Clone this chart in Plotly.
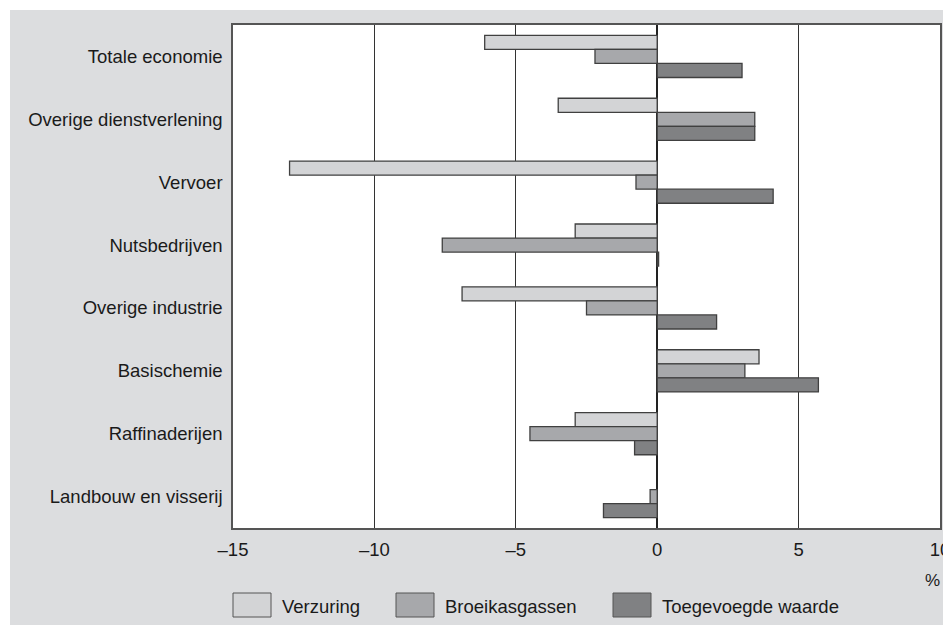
import plotly.graph_objects as go

categories = ["Totale economie", "Overige dienstverlening", "Vervoer", "Nutsbedrijven",
              "Overige industrie", "Basischemie", "Raffinaderijen", "Landbouw en visserij"]
verzuring = [-6.1, -3.5, -13.0, -2.9, -6.9, 3.6, -2.9, None]
broeikasgassen = [-2.2, 3.45, -0.75, -7.6, -2.5, 3.1, -4.5, -0.25]
toegevoegde_waarde = [3.0, 3.45, 4.1, 0.05, 2.1, 5.7, -0.8, -1.9]
series_names = ["Verzuring", "Broeikasgassen", "Toegevoegde waarde"]
series_colors = ["#d3d4d6", "#a7a8ab", "#808183"]
x_tick_values = [-15, -10, -5, 0, 5, 10]
x_tick_labels = ["\u201315", "\u201310", "\u20135", "0", "5", "10"]
unit_label = "%"

OFF = 8  # page body margin
W, H = 951 - OFF, 625 - OFF
L, T = 233 - OFF, 25 - OFF
R = W - (940 - OFF)
B = H - (528 - OFF)
PW, PH = W - L - R, H - T - B
FONT = "Liberation Sans, Arial, Helvetica, sans-serif"


def px_x(p):
    return (p - OFF - L) / PW


def px_y(p):
    return (H - B - (p - OFF)) / PH


fig = go.Figure()
for name, vals, col in zip(series_names, [verzuring, broeikasgassen, toegevoegde_waarde], series_colors):
    fig.add_trace(go.Bar(
        y=categories, x=vals, name=name, orientation="h",
        marker=dict(color=col, line=dict(color="#404040", width=1.3)),
        showlegend=False,
    ))

shapes = [
    dict(type="rect", xref="paper", yref="paper", x0=px_x(10), x1=px_x(960),
         y0=px_y(640), y1=px_y(10), fillcolor="#dcdddf", line=dict(width=0), layer="below"),
    dict(type="rect", xref="paper", yref="paper", x0=0, x1=1, y0=0, y1=1,
         fillcolor="white", line=dict(width=0), layer="below"),
]
annotations = []
legend_box_x = [233, 396, 613]
for name, col, bx in zip(series_names, series_colors, legend_box_x):
    shapes.append(dict(type="rect", xref="paper", yref="paper",
                       x0=px_x(bx), x1=px_x(bx + 38), y0=px_y(617), y1=px_y(593),
                       fillcolor=col, line=dict(color="#555555", width=1)))
    annotations.append(dict(xref="paper", yref="paper", x=px_x(bx + 47), y=px_y(606),
                            text=name, showarrow=False, xanchor="left", yanchor="middle",
                            font=dict(family=FONT, size=18.5, color="#1a1a1a")))
annotations.append(dict(xref="paper", yref="paper", x=px_x(932), y=px_y(580),
                        text=unit_label, showarrow=False, xanchor="center", yanchor="middle",
                        font=dict(family=FONT, size=17, color="#1a1a1a")))

fig.update_layout(
    width=W, height=H,
    margin=dict(l=L, r=R, t=T, b=B, pad=0),
    paper_bgcolor="white", plot_bgcolor="rgba(0,0,0,0)",
    barmode="group", bargap=0.33, bargroupgap=0,
    font=dict(family=FONT, size=18.5, color="#1a1a1a"),
    shapes=shapes, annotations=annotations,
    xaxis=dict(range=[-15, 10], tickvals=x_tick_values, ticktext=x_tick_labels,
               showgrid=True, gridcolor="#333333", gridwidth=1,
               zeroline=True, zerolinecolor="#222222", zerolinewidth=1.5,
               showline=True, linecolor="#555555", linewidth=2, mirror=True,
               ticks="", ticklabelstandoff=4, tickfont=dict(size=18.5),
               automargin=False),
    yaxis=dict(autorange="reversed", showgrid=False, zeroline=False,
               showline=True, linecolor="#555555", linewidth=1.5, mirror=True,
               ticks="", ticklabelstandoff=5, tickfont=dict(size=18.5),
               automargin=False),
)

fig.write_html("out.html")
